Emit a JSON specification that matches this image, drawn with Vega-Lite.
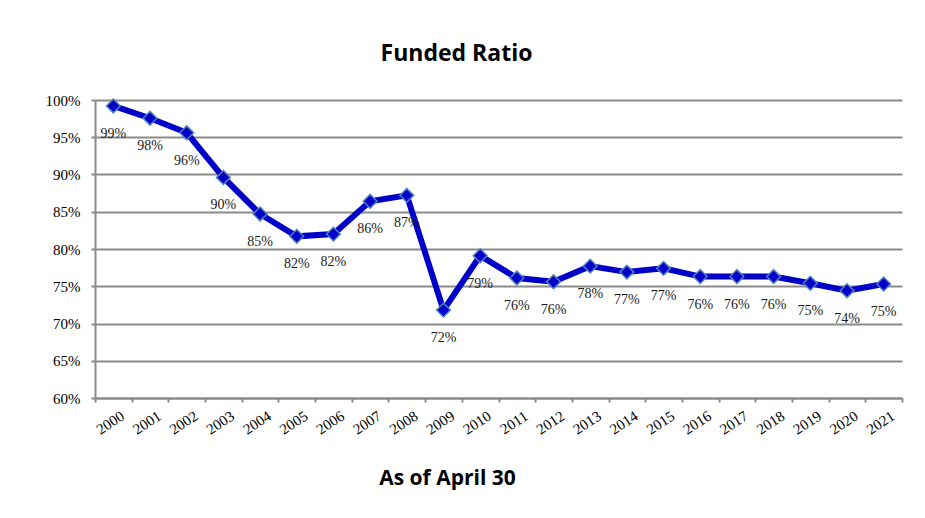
{
  "$schema": "https://vega.github.io/schema/vega-lite/v6.json",
  "width": 807,
  "height": 298,
  "autosize": {"type": "none"},
  "padding": {"left": 95, "top": 100, "right": 23, "bottom": 120},
  "background": "white",
  "title": {
    "text": "Funded Ratio",
    "font": "Open Sans",
    "fontSize": 23,
    "fontWeight": "bold",
    "color": "black",
    "anchor": "middle",
    "dx": -42,
    "offset": 27
  },
  "config": {
    "view": {"stroke": null},
    "axis": {
      "domainColor": "#8a8a8a",
      "domainWidth": 2,
      "tickColor": "#8a8a8a",
      "tickWidth": 2,
      "gridColor": "#8a8a8a",
      "gridWidth": 2,
      "labelFont": "Liberation Serif",
      "labelColor": "black"
    }
  },
  "data": {
    "values": [
      {"year": "2000", "ratio": 0.992},
      {"year": "2001", "ratio": 0.9755},
      {"year": "2002", "ratio": 0.956},
      {"year": "2003", "ratio": 0.896},
      {"year": "2004", "ratio": 0.847},
      {"year": "2005", "ratio": 0.817},
      {"year": "2006", "ratio": 0.820},
      {"year": "2007", "ratio": 0.864},
      {"year": "2008", "ratio": 0.872},
      {"year": "2009", "ratio": 0.718},
      {"year": "2010", "ratio": 0.791},
      {"year": "2011", "ratio": 0.761},
      {"year": "2012", "ratio": 0.756},
      {"year": "2013", "ratio": 0.777},
      {"year": "2014", "ratio": 0.769},
      {"year": "2015", "ratio": 0.774},
      {"year": "2016", "ratio": 0.763},
      {"year": "2017", "ratio": 0.763},
      {"year": "2018", "ratio": 0.763},
      {"year": "2019", "ratio": 0.754},
      {"year": "2020", "ratio": 0.744},
      {"year": "2021", "ratio": 0.753}
    ]
  },
  "encoding": {
    "x": {
      "field": "year",
      "type": "ordinal",
      "scale": {"type": "band", "paddingInner": 0, "paddingOuter": 0},
      "axis": {
        "title": "As of April 30",
        "titleFont": "Open Sans",
        "titleFontSize": 21,
        "titleFontWeight": "bold",
        "titleColor": "black",
        "titleX": 352,
        "titleY": 80,
        "titleBaseline": "middle",
        "titleAnchor": "middle",
        "titleAlign": "center",
        "labelAngle": -33,
        "labelAlign": "right",
        "labelBaseline": "middle",
        "labelFontSize": 15,
        "labelPadding": 12,
        "labelOffset": 9,
        "tickSize": 4,
        "tickBand": "extent",
        "grid": false
      }
    },
    "y": {
      "field": "ratio",
      "type": "quantitative",
      "scale": {"domain": [0.6, 1.0], "nice": false, "zero": false},
      "axis": {
        "title": null,
        "format": ".0%",
        "values": [0.6, 0.65, 0.7, 0.75, 0.8, 0.85, 0.9, 0.95, 1.0],
        "labelFontSize": 15,
        "labelPadding": 11,
        "tickSize": 4,
        "grid": true
      }
    }
  },
  "layer": [
    {
      "mark": {"type": "line", "color": "#0000c8", "strokeWidth": 6}
    },
    {
      "mark": {"type": "point", "shape": "diamond", "filled": true, "size": 190, "fill": "#0000c8", "stroke": "#4f81bd", "strokeWidth": 1.5, "opacity": 1}
    },
    {
      "mark": {"type": "text", "dy": 28, "font": "Liberation Serif", "fontSize": 14, "color": "#1a1a1a"},
      "encoding": {
        "text": {"field": "ratio", "type": "quantitative", "format": ".0%"}
      }
    }
  ]
}
